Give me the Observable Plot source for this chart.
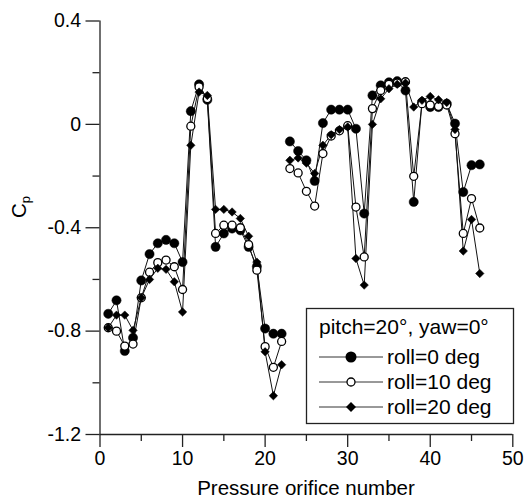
<!DOCTYPE html>
<html>
<head>
<meta charset="utf-8">
<script src="https://cdn.jsdelivr.net/npm/d3@7"></script>
<script src="https://cdn.jsdelivr.net/npm/@observablehq/plot@0.6"></script>
<style>
  html, body { margin: 0; padding: 0; background: white; }
  #chart { width: 526px; height: 502px; }
</style>
</head>
<body>
<div id="chart"></div>
<script>
// Pressure orifice numbers (two separate groups, no line between them)
const orificesLeft = [1,2,3,4,5,6,7,8,9,10,11,12,13,14,15,16,17,18,19,20,21,22];
const orificesRight = [23,24,25,26,27,28,29,30,31,32,33,34,35,36,37,38,39,40,41,42,43,44,45,46];

// Cp values, left group (orifices 1-22)
const roll0Left  = [-0.733,-0.681,-0.877,-0.826,-0.604,-0.502,-0.46,-0.447,-0.46,-0.533,0.051,0.155,0.095,-0.474,-0.422,-0.403,-0.41,-0.474,-0.55,-0.79,-0.81,-0.81];
const roll10Left = [-0.787,-0.8,-0.858,-0.85,-0.671,-0.572,-0.535,-0.525,-0.551,-0.639,-0.007,0.145,0.10,-0.422,-0.39,-0.39,-0.40,-0.465,-0.564,-0.86,-0.94,-0.84];
const roll20Left = [-0.787,-0.738,-0.738,-0.797,-0.671,-0.6,-0.557,-0.561,-0.609,-0.726,-0.081,0.125,0.112,-0.329,-0.329,-0.339,-0.364,-0.433,-0.533,-0.88,-1.05,-0.93];

// Cp values, right group (orifices 23-46)
const roll0Right  = [-0.066,-0.103,-0.139,-0.219,0.005,0.057,0.057,0.057,-0.017,-0.345,0.112,0.151,0.163,0.167,0.131,-0.30,0.086,0.067,0.067,0.08,0.003,-0.262,-0.158,-0.155];
const roll10Right = [-0.171,-0.188,-0.259,-0.316,-0.113,-0.045,-0.025,-0.005,-0.32,-0.513,0.061,0.131,0.155,0.16,0.165,-0.201,0.08,0.075,0.07,0.075,-0.036,-0.422,-0.287,-0.401];
const roll20Right = [-0.139,-0.13,-0.15,-0.19,-0.081,-0.04,-0.02,-0.01,-0.519,-0.622,0.0,0.099,0.138,0.155,0.16,0.067,0.093,0.108,0.095,0.085,-0.02,-0.49,-0.368,-0.577];

const seriesNames = ["roll=0 deg", "roll=10 deg", "roll=20 deg"];
const legendTitle = "pitch=20\u00b0, yaw=0\u00b0";
const xMajorTicks = [0,10,20,30,40,50];
const xMinorTicks = [5,15,25,35,45];
const yMajorTicks = [-1.2,-0.8,-0.4,0,0.4];
const yMinorTicks = [-1.0,-0.6,-0.2,0.2];
const xLabel = "Pressure orifice number";

function build(name, seg, ns, vs) {
  return ns.map((n, i) => ({series: name, seg, n, v: vs[i]}));
}
const data = [
  ...build(seriesNames[0], "L", orificesLeft, roll0Left),
  ...build(seriesNames[0], "R", orificesRight, roll0Right),
  ...build(seriesNames[1], "L", orificesLeft, roll10Left),
  ...build(seriesNames[1], "R", orificesRight, roll10Right),
  ...build(seriesNames[2], "L", orificesLeft, roll20Left),
  ...build(seriesNames[2], "R", orificesRight, roll20Right)
];
const s0 = data.filter(d => d.series === seriesNames[0]);
const s1 = data.filter(d => d.series === seriesNames[1]);
const s2 = data.filter(d => d.series === seriesNames[2]);

const fmtY = d => d === 0 ? "0" : d.toFixed(1);

const chart = Plot.plot({
  width: 526,
  height: 502,
  marginLeft: 99.5,
  marginRight: 13.7,
  marginTop: 20.5,
  marginBottom: 68,
  x: {domain: [0, 50]},
  y: {domain: [-1.2, 0.4]},
  style: {fontFamily: "'Liberation Sans', Arial, sans-serif", fontSize: "19px", color: "black", background: "white"},
  marks: [
    Plot.ruleX([0], {stroke: "#222", strokeWidth: 1.3}),
    Plot.ruleY([-1.2], {stroke: "#222", strokeWidth: 1.3}),
    Plot.axisX({ticks: xMajorTicks, tickSize: 13, tickPadding: 4, tickFormat: d => String(d), label: null, stroke: "#222", strokeWidth: 1.3, fontSize: 19.5}),
    Plot.axisX({ticks: xMinorTicks, tickSize: 7, tickFormat: () => "", label: null, stroke: "#222", strokeWidth: 1.3}),
    Plot.axisY({ticks: yMajorTicks, tickSize: 14, tickPadding: 5, tickFormat: fmtY, label: null, stroke: "#222", strokeWidth: 1.3, fontSize: 19.5}),
    Plot.axisY({ticks: yMinorTicks, tickSize: 7, tickFormat: () => "", label: null, stroke: "#222", strokeWidth: 1.3}),
    Plot.line(data, {x: "n", y: "v", z: d => d.series + d.seg, stroke: "#111", strokeWidth: 1}),
    Plot.dot(s0, {x: "n", y: "v", r: 4.6, fill: "black", stroke: "black", strokeWidth: 0.5}),
    Plot.dot(s1, {x: "n", y: "v", r: 4, fill: "white", stroke: "black", strokeWidth: 1.3}),
    Plot.dot(s2, {x: "n", y: "v", r: 3.8, symbol: "diamond2", fill: "black", stroke: "black", strokeWidth: 0.5})
  ]
});

document.getElementById("chart").appendChild(chart);

// Axis titles and in-plot legend
const svg = d3.select(chart);
svg.append("text")
  .attr("x", 306).attr("y", 495)
  .attr("text-anchor", "middle")
  .attr("font-size", 20.5)
  .attr("fill", "black")
  .text(xLabel);

const yl = svg.append("text")
  .attr("transform", "translate(26,207) rotate(-90)")
  .attr("text-anchor", "middle")
  .attr("font-size", 20.5)
  .attr("fill", "black");
yl.append("tspan").text("C");
yl.append("tspan").attr("font-size", 13).attr("dy", 4).text("p");

const lg = svg.append("g").attr("text-anchor", "start");
lg.append("rect").attr("x", 306.5).attr("y", 308.5).attr("width", 207).attr("height", 115)
  .attr("fill", "white").attr("stroke", "#222").attr("stroke-width", 1.3);
lg.append("text").attr("x", 319).attr("y", 334).attr("text-anchor", "start").attr("font-size", 21).attr("fill", "black").text(legendTitle);
const rowsY = [357, 382, 407];
seriesNames.forEach((name, i) => {
  const y = rowsY[i];
  lg.append("line").attr("x1", 319).attr("x2", 383).attr("y1", y).attr("y2", y)
    .attr("stroke", "#333").attr("stroke-width", 1);
  if (i === 0) {
    lg.append("circle").attr("cx", 351).attr("cy", y).attr("r", 5.5).attr("fill", "black");
  } else if (i === 1) {
    lg.append("circle").attr("cx", 351).attr("cy", y).attr("r", 4).attr("fill", "white").attr("stroke", "black").attr("stroke-width", 1.3);
  } else {
    lg.append("path").attr("d", `M351,${y-5}L356,${y}L351,${y+5}L346,${y}Z`).attr("fill", "black");
  }
  lg.append("text").attr("x", 387).attr("y", y + 7).attr("text-anchor", "start").attr("font-size", 21).attr("fill", "black").text(name);
});
</script>
</body>
</html>
